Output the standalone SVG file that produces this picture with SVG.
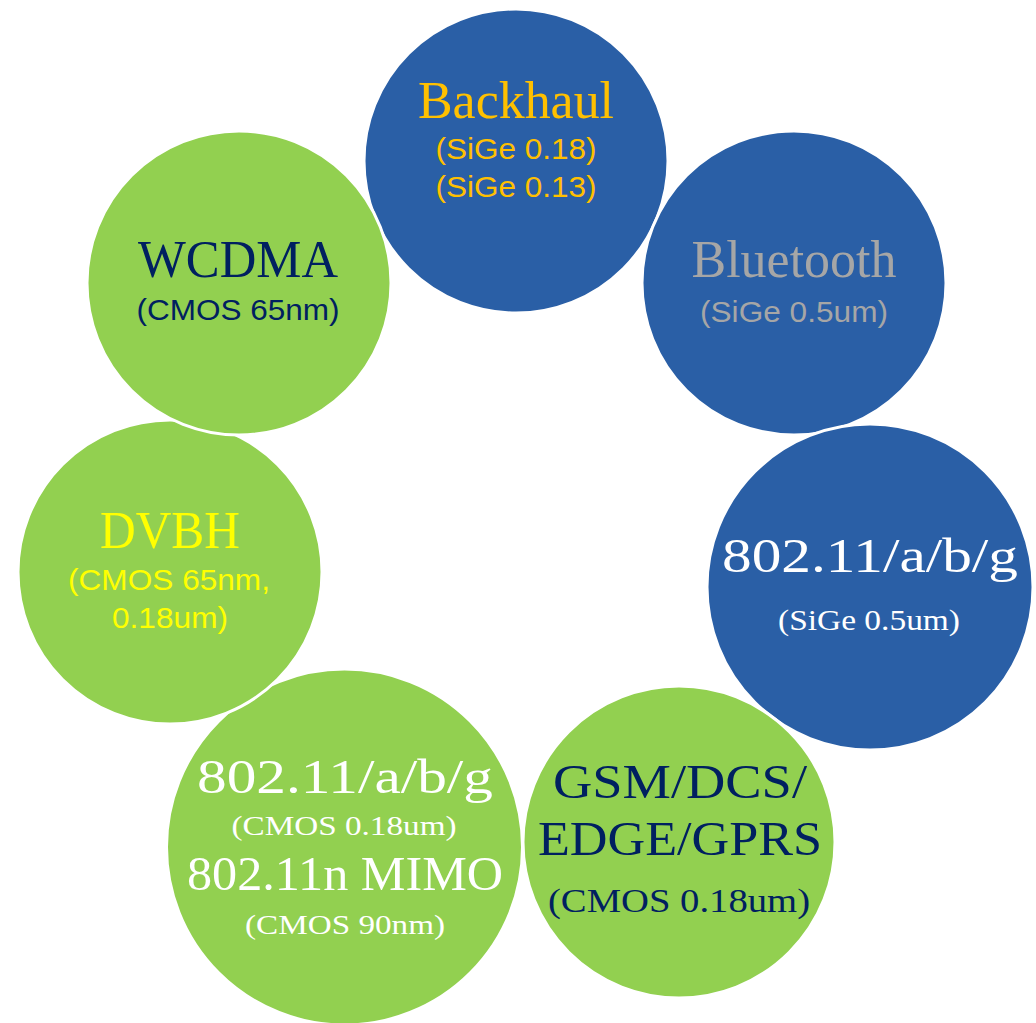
<svg xmlns="http://www.w3.org/2000/svg" width="1036" height="1023" viewBox="0 0 1036 1023">
<style>
.blue{fill:#2A5FA6;stroke:#fff;stroke-width:3}
.green{fill:#92D050;stroke:#fff;stroke-width:3}
.s{font-family:"Liberation Serif","Times New Roman",serif;text-anchor:middle}
.a{font-family:"Liberation Sans",Arial,sans-serif;text-anchor:middle}
</style>
<rect width="1036" height="1023" fill="#fff"/>
<g id="connectors"></g>
<g id="backhaul">
<circle class="blue" cx="516" cy="161" r="152"/>
<text class="s" x="516" y="118" font-size="52" fill="#FFC000" textLength="196" lengthAdjust="spacingAndGlyphs">Backhaul</text>
<text class="a" x="516" y="159" font-size="29" fill="#FFC000" textLength="161" lengthAdjust="spacingAndGlyphs">(SiGe 0.18)</text>
<text class="a" x="516" y="197" font-size="29" fill="#FFC000" textLength="161" lengthAdjust="spacingAndGlyphs">(SiGe 0.13)</text>
</g>
<g id="bluetooth">
<circle class="blue" cx="794" cy="283" r="152"/>
<text class="s" x="794" y="277" font-size="52" fill="#A6A6A6" textLength="205" lengthAdjust="spacingAndGlyphs">Bluetooth</text>
<text class="a" x="794" y="322" font-size="29" fill="#A6A6A6" textLength="188" lengthAdjust="spacingAndGlyphs">(SiGe 0.5um)</text>
</g>
<g id="wifi-sige">
<circle class="blue" cx="870" cy="587" r="163"/>
<text class="s" x="870" y="572" font-size="48" fill="#fff" textLength="296" lengthAdjust="spacingAndGlyphs">802.11/a/b/g</text>
<text class="s" x="869" y="630" font-size="30" fill="#fff" textLength="182" lengthAdjust="spacingAndGlyphs">(SiGe 0.5um)</text>
</g>
<g id="gsm">
<circle class="green" cx="679" cy="842" r="156"/>
<text class="s" x="680" y="798" font-size="48" fill="#002060" textLength="254" lengthAdjust="spacingAndGlyphs">GSM/DCS/</text>
<text class="s" x="680" y="855" font-size="48" fill="#002060" textLength="284" lengthAdjust="spacingAndGlyphs">EDGE/GPRS</text>
<text class="s" x="679" y="912" font-size="33" fill="#002060" textLength="262" lengthAdjust="spacingAndGlyphs">(CMOS 0.18um)</text>
</g>
<g id="wifi-cmos">
<circle class="green" cx="344.5" cy="847" r="178"/>
<text class="s" x="345" y="793" font-size="48" fill="#fff" textLength="296" lengthAdjust="spacingAndGlyphs">802.11/a/b/g</text>
<text class="s" x="344" y="835" font-size="27" fill="#fff" textLength="225" lengthAdjust="spacingAndGlyphs">(CMOS 0.18um)</text>
<text class="s" x="345" y="890" font-size="48" fill="#fff" textLength="316" lengthAdjust="spacingAndGlyphs">802.11n MIMO</text>
<text class="s" x="345" y="934" font-size="27" fill="#fff" textLength="200" lengthAdjust="spacingAndGlyphs">(CMOS 90nm)</text>
</g>
<g id="dvbh">
<circle class="green" cx="170" cy="572" r="152"/>
<text class="s" x="170" y="548" font-size="52" fill="#FFFF00" textLength="140" lengthAdjust="spacingAndGlyphs">DVBH</text>
<text class="a" x="169" y="590" font-size="29" fill="#FFFF00" textLength="202" lengthAdjust="spacingAndGlyphs">(CMOS 65nm,</text>
<text class="a" x="170" y="628" font-size="29" fill="#FFFF00" textLength="116" lengthAdjust="spacingAndGlyphs">0.18um)</text>
</g>
<g id="wcdma">
<circle class="green" cx="239" cy="283" r="152"/>
<text class="s" x="238" y="277" font-size="52" fill="#002060" textLength="200" lengthAdjust="spacingAndGlyphs">WCDMA</text>
<text class="a" x="238" y="320" font-size="29" fill="#002060" textLength="203" lengthAdjust="spacingAndGlyphs">(CMOS 65nm)</text>
</g>
</svg>
